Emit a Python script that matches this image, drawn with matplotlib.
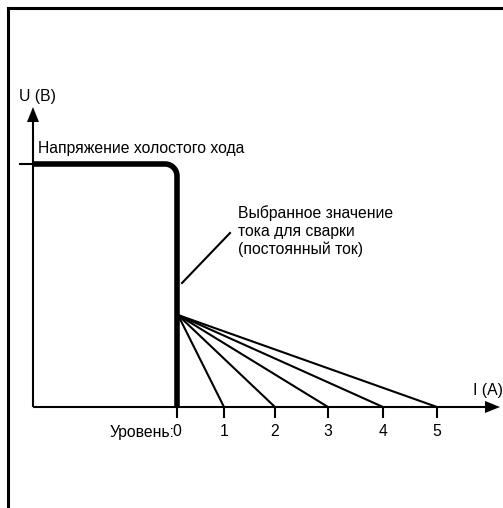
import numpy as np
import matplotlib
matplotlib.use("Agg")
import matplotlib.pyplot as plt
from matplotlib.lines import Line2D

plt.rcParams['font.family'] = ['Liberation Sans', 'DejaVu Sans']

# ---- data (schematic units: 1 unit ~ 1 px, origin at axes crossing) ----
levels = [0, 1, 2, 3, 4, 5]
level_current = [144, 191, 242, 295, 350, 404]   # I position of each level
open_circuit_voltage = 243                      # U of the no-load plateau
set_current = 144                               # selected welding current
fan_origin_voltage = 92                         # U where the fan lines start
u_axis_top = 300
i_axis_end = 467

level_label = "Уровень:"
u_label = "U (B)"
i_label = "I (A)"
ocv_label = "Напряжение холостого хода"
set_label = "Выбранное значение\nтока для сварки\n(постоянный ток)"

# ---- figure ----
W, H = 503, 508
fig = plt.figure(figsize=(W / 100, H / 100), dpi=100)
ax = fig.add_axes([0, 0, 1, 1])
ax.set_xlim(-33, W - 33)
ax.set_ylim(-(H - 407), 407)
ax.axis('off')

# frame (cropped rectangle)
fig.add_artist(Line2D([8 / W, 1.0], [1 - 8 / H, 1 - 8 / H], color='black', lw=2.2,
                      transform=fig.transFigure, solid_capstyle='projecting'))
fig.add_artist(Line2D([8 / W, 8 / W], [0, 1 - 8 / H], color='black', lw=2.2,
                      transform=fig.transFigure, solid_capstyle='projecting'))

thin = 1.5
thick = 4.0
fs = 11.3

# axes lines with arrowheads
ah_len, ah_half = 15, 6
ax.plot([0, 0], [0, u_axis_top - ah_len], color='black', lw=thin, solid_capstyle='butt')
ax.fill([-ah_half, ah_half, 0], [u_axis_top - ah_len, u_axis_top - ah_len, u_axis_top],
        color='black', lw=0)
ax.plot([0, i_axis_end - ah_len], [0, 0], color='black', lw=thin, solid_capstyle='butt')
ax.fill([i_axis_end - ah_len, i_axis_end - ah_len, i_axis_end], [-ah_half, ah_half, 0],
        color='black', lw=0)

# tick on U axis for open-circuit voltage
ax.plot([-13, 0], [open_circuit_voltage, open_circuit_voltage], color='black', lw=thin)

# characteristic: plateau, rounded knee, vertical drop
r = 12
theta = np.linspace(np.pi / 2, 0, 40)
xs = np.concatenate([[0], set_current - r + r * np.cos(theta), [set_current]])
ys = np.concatenate([[open_circuit_voltage],
                     open_circuit_voltage - r + r * np.sin(theta), [0]])
ax.plot(xs, ys, color='black', lw=thick, solid_capstyle='butt', solid_joinstyle='round')

# fan lines to each level
for c in level_current[1:]:
    ax.plot([set_current + 1, c], [fan_origin_voltage, 0], color='black', lw=thin)

# level ticks and labels
for lv, c in zip(levels, level_current):
    ax.plot([c, c], [0, -11], color='black', lw=thin, solid_capstyle='butt')
    ax.text(c, -25, str(lv), ha='center', va='center', fontsize=fs)
ax.text(level_current[0] - 3, -25, level_label, ha='right', va='center', fontsize=fs)

# axis labels
ax.text(-14, 310, u_label, ha='left', va='center', fontsize=fs)
ax.text(440, 17, i_label, ha='left', va='center', fontsize=fs)

# open-circuit label
ax.text(5, 258, ocv_label, ha='left', va='center', fontsize=fs)

# selected current annotation
ax.plot([set_current + 5, 197], [124, 174], color='black', lw=thin)
ax.text(205, 176, set_label, ha='left', va='center', fontsize=fs, linespacing=1.2)

fig.savefig('out.png', dpi=100)
